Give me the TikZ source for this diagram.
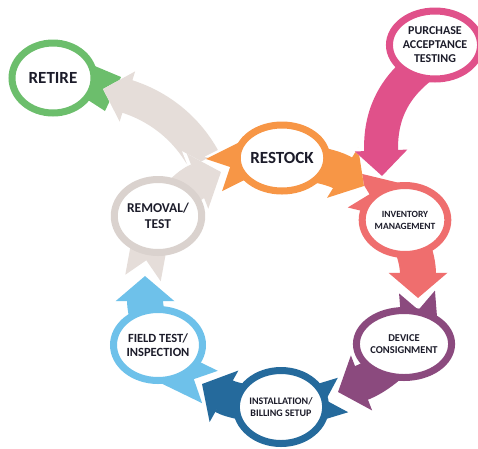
\documentclass[tikz,border=0pt]{standalone}
\usepackage{fontspec}
\setmainfont{Carlito}
\usetikzlibrary{arrows.meta,shapes.geometric,backgrounds}

\definecolor{cGreen}{RGB}{108,190,108}
\definecolor{cPink}{RGB}{224,81,138}
\definecolor{cOrange}{RGB}{247,150,70}
\definecolor{cSalmon}{RGB}{239,110,110}
\definecolor{cPurple}{RGB}{139,74,126}
\definecolor{cBlue}{RGB}{37,106,156}
\definecolor{cSky}{RGB}{110,193,234}
\definecolor{cGrey}{RGB}{229,221,217}
\definecolor{cGreyRing}{RGB}{218,210,206}
\definecolor{ink}{RGB}{28,28,42}

\tikzset{
	stage/.style={ellipse,draw=#1,line width=7pt,fill=white,minimum width=83pt,minimum height=70pt,inner sep=0pt,align=center,text=ink},
	flow/.style={draw=#1,line width=36pt,{Triangle Cap[reversed]}-{Triangle[width=0pt 1.6,length=0pt 0.7]},preaction={draw=white,line width=41pt}},
	plainflow/.style={draw=#1,line width=34pt,-{Triangle[width=0pt 1.5,length=0pt 0.75]},preaction={draw=white,line width=39pt}}
}

\begin{document}
\begin{tikzpicture}[x=1pt,y=-1pt]
		\useasboundingbox (0,0) rectangle (478,448);
		\node[stage=cGreen,minimum width=82pt,minimum height=70pt,font=\bfseries\fontsize{17}{20}\selectfont] (retire) at (53,78) {RETIRE};
		\node[stage=cPink,minimum width=77pt,minimum height=68pt,font=\bfseries\fontsize{12}{14}\selectfont] (purchase) at (435,45) {PURCHASE\\ACCEPTANCE\\TESTING};
		\node[stage=cOrange,minimum width=86pt,minimum height=66pt,font=\bfseries\fontsize{17}{20}\selectfont] (restock) at (282,158) {RESTOCK};
		\node[stage=cSalmon,minimum width=78pt,minimum height=69pt,font=\bfseries\fontsize{9.5}{12}\selectfont] (inventory) at (405,220) {INVENTORY\\MANAGEMENT};
		\node[stage=cPurple,minimum width=81pt,minimum height=67pt,font=\bfseries\fontsize{10.5}{12}\selectfont] (device) at (404,344) {DEVICE\\CONSIGNMENT};
		\node[stage=cBlue,minimum width=81pt,minimum height=73pt,font=\bfseries\fontsize{10}{11.5}\selectfont] (install) at (281,407) {INSTALLATION/\\BILLING SETUP};
		\node[stage=cSky,minimum width=83pt,minimum height=71pt,font=\bfseries\fontsize{12.5}{14}\selectfont] (field) at (158,345) {FIELD TEST/\\INSPECTION};
		\node[stage=cGreyRing,minimum width=83pt,minimum height=73pt,font=\bfseries\fontsize{13.5}{16}\selectfont] (removal) at (158,216) {REMOVAL/\\TEST};

		\coordinate (orangeTail) at (214,175);
		\coordinate (orangeTip) at (364,186);
		\coordinate (salmonTail) at (352,190);
		\coordinate (salmonTip) at (418,298);
		\coordinate (pinkTail) at (428,62);
		\coordinate (pinkTip) at (382,176);
		\coordinate (greyTail) at (143,278);
		\coordinate (greyTip) at (221,172);
		\coordinate (skyTail) at (210,387);
		\coordinate (skyTip) at (145,276);
		\coordinate (blueTail) at (343,395);
		\coordinate (blueTip) at (202,384);
		\coordinate (purpleTail) at (417,292);
		\coordinate (purpleTip) at (338,392);
		\coordinate (retireTail) at (204,160);
		\coordinate (retireTip) at (103,89);

		\begin{pgfonlayer}{background}
			\fill[cGreen] (90,64) -- (121,77) -- (105,111) -- (88,100) -- cycle;
			\draw[plainflow=cGrey] (retireTail) .. controls (185,125) and (155,105) .. (retireTip);
			\draw[flow=cSalmon] (salmonTail) .. controls (385,198) and (418,240) .. (salmonTip);
			\draw[flow=cOrange] (orangeTail) .. controls (250,157) and (322,160) .. (orangeTip);
			\draw[plainflow=cPink] (pinkTail) .. controls (390,88) and (380,120) .. (pinkTip);
			\draw[flow=cGrey] (greyTail) .. controls (150,240) and (175,190) .. (greyTip);
			\draw[flow=cSky] (skyTail) .. controls (175,370) and (145,330) .. (skyTip);
			\draw[flow=cBlue] (blueTail) .. controls (310,405) and (245,408) .. (blueTip);
			\draw[flow=cPurple] (purpleTail) .. controls (420,330) and (395,370) .. (purpleTip);
		\end{pgfonlayer}
	\end{tikzpicture}
\end{document}
